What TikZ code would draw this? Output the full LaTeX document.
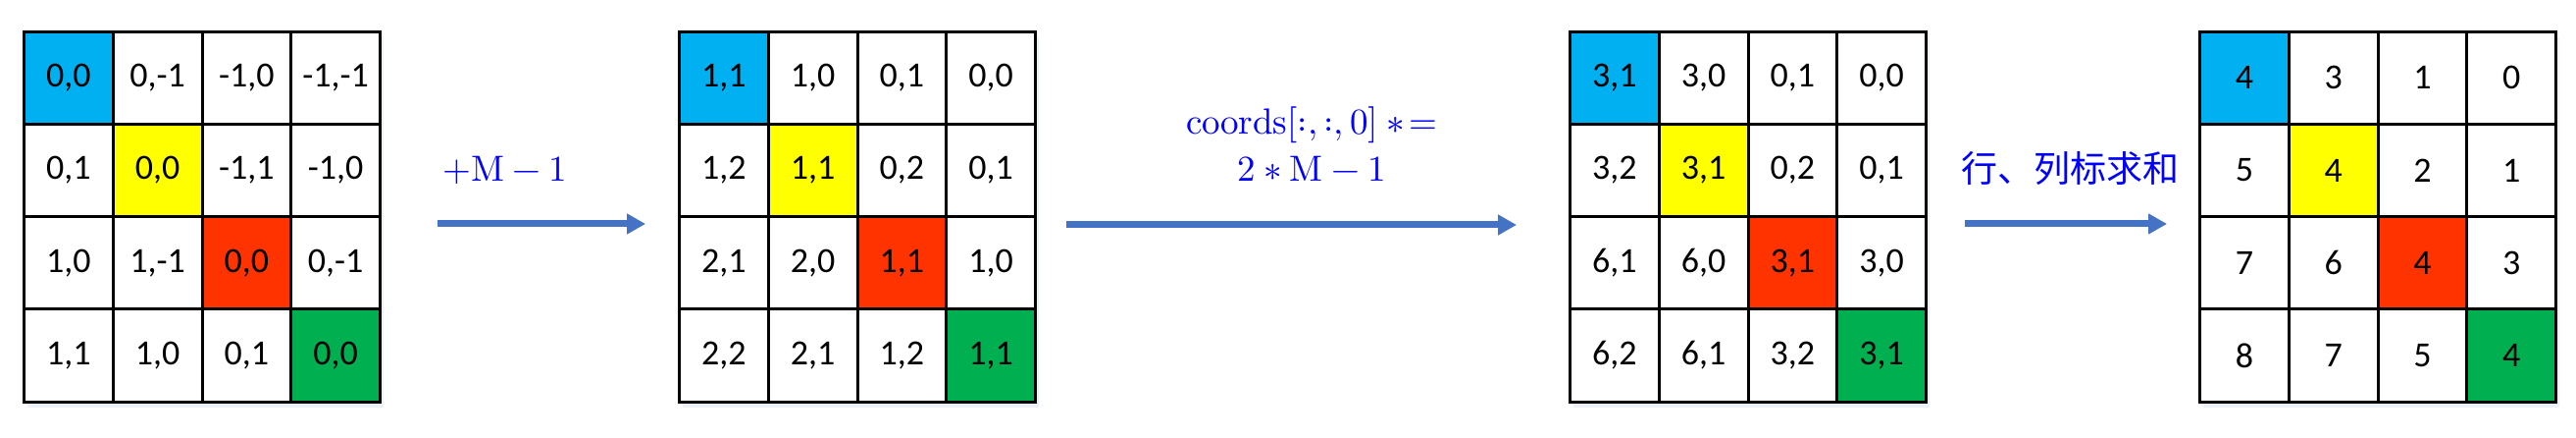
\documentclass[tikz,border=0pt]{standalone}
\usepackage{fontspec}
\usepackage{unicode-math}
\setmainfont{Carlito}
\setmathfont{Latin Modern Math}
\newfontfamily\cjk{Noto Sans CJK SC}
\usetikzlibrary{arrows.meta}
\definecolor{diag0}{HTML}{00B0F0}
\definecolor{diag1}{HTML}{FFFF00}
\definecolor{diag2}{HTML}{FF3300}
\definecolor{diag3}{HTML}{00B050}
\definecolor{arrowblue}{HTML}{4472C4}
\definecolor{labelblue}{HTML}{0000FF}
\definecolor{shadowblue}{HTML}{C9D7EE}
\tikzset{
  cellbox/.style={draw=black, line width=3pt, minimum width=90.75pt, minimum height=94.25pt,
    inner sep=0pt, font=\fontsize{36}{42}\selectfont},
  flowarrow/.style={draw=arrowblue, line width=7pt, -{Triangle[length=19pt,width=20pt]}},
  mathlabel/.style={text=labelblue, font=\fontsize{37}{44}\selectfont, inner sep=0pt},
  cjklabel/.style={text=labelblue, font=\cjk\fontsize{37}{44}\selectfont, inner sep=0pt},
  gridshadow/.style={fill=shadowblue, opacity=0.35},
}
\newcommand\mkgrid[3]{%
  \fill[gridshadow] ({#2+3},{32.2+6}) rectangle ({#2+363+3},{409.2+6});
  \foreach \t [count=\i from 0] in {#3} {
    \pgfmathtruncatemacro\r{div(\i,4)}
    \pgfmathtruncatemacro\c{mod(\i,4)}
    \ifnum\r=\c \def\fc{diag\r}\else\def\fc{white}\fi
    \node[cellbox, fill=\fc] (#1-\r-\c) at ({#2+(\c+0.5)*90.75},{32.2+(\r+0.5)*94.25}) {\t};
  }
}
\begin{document}
\begin{tikzpicture}[x=1pt,y=-1pt]
\useasboundingbox (0,0) rectangle (2626,446);
\fill[white] (0,0) rectangle (2626,446);

\mkgrid{ga}{24.5}{{0,0},{0,-1},{-1,0},{-1,-1},{0,1},{0,0},{-1,1},{-1,0},{1,0},{1,-1},{0,0},{0,-1},{1,1},{1,0},{0,1},{0,0}}
\mkgrid{gb}{692.5}{{1,1},{1,0},{0,1},{0,0},{1,2},{1,1},{0,2},{0,1},{2,1},{2,0},{1,1},{1,0},{2,2},{2,1},{1,2},{1,1}}
\mkgrid{gc}{1600.5}{{3,1},{3,0},{0,1},{0,0},{3,2},{3,1},{0,2},{0,1},{6,1},{6,0},{3,1},{3,0},{6,2},{6,1},{3,2},{3,1}}
\mkgrid{gd}{2242.5}{4,3,1,0,5,4,2,1,7,6,4,3,8,7,5,4}

\coordinate (a1s) at (446,228);
\coordinate (a1e) at (658,228);
\coordinate (a2s) at (1087,229);
\coordinate (a2e) at (1546,229);
\coordinate (a3s) at (2003,228);
\coordinate (a3e) at (2209,228);
\draw[flowarrow] (a1s) -- (a1e);
\draw[flowarrow] (a2s) -- (a2e);
\draw[flowarrow] (a3s) -- (a3e);

\node[mathlabel, anchor=base] (lab1) at (515,185) {$+\symup{M}-1$};
\node[mathlabel, anchor=base] (lab2a) at (1337,137) {$\symup{coords}[:,:,0]\ \ast\!=$};
\node[mathlabel, anchor=base] (lab2b) at (1337,185) {$2\ast\symup{M}-1$};
\node[cjklabel] (lab3) at (2110,172) {行、列标求和};
\end{tikzpicture}
\end{document}
